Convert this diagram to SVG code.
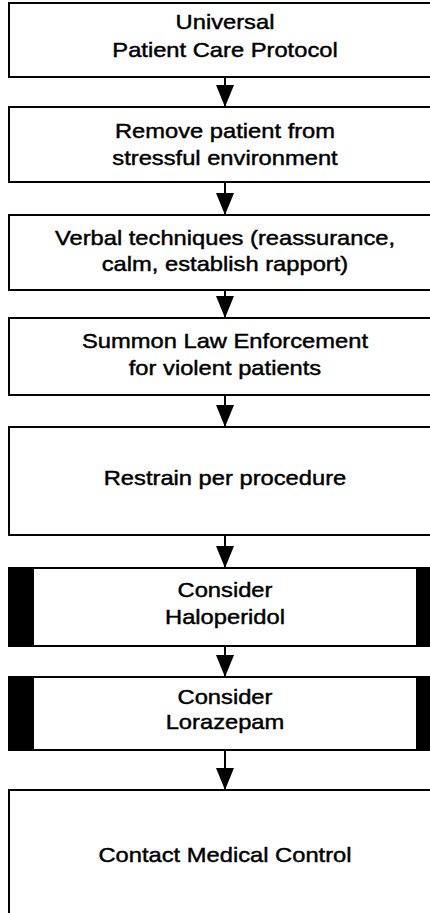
<svg xmlns="http://www.w3.org/2000/svg" width="430" height="913" viewBox="0 0 430 913">
<style>
.box{fill:#fff;stroke:#000;stroke-width:2}
.bar{fill:#000}
.t{font-family:"Liberation Sans",Arial,Helvetica,sans-serif;font-size:21px;text-anchor:middle;fill:#000;stroke:#000;stroke-width:0.45}
.c{stroke:#000;stroke-width:2;fill:none}
</style>
<defs>
<marker id="ah" viewBox="0 0 22 18" refX="22" refY="9" markerWidth="22" markerHeight="18" markerUnits="userSpaceOnUse" orient="auto">
<path d="M0,0 L22,9 L0,18 z" fill="#000"/>
</marker>
</defs>
<rect width="430" height="913" fill="#fff"/>
<g id="connectors">
<line class="c" x1="225" y1="77" x2="225" y2="107" marker-end="url(#ah)"/>
<line class="c" x1="225" y1="182" x2="225" y2="215" marker-end="url(#ah)"/>
<line class="c" x1="225" y1="290" x2="225" y2="318" marker-end="url(#ah)"/>
<line class="c" x1="225" y1="395" x2="225" y2="427" marker-end="url(#ah)"/>
<line class="c" x1="225" y1="535" x2="225" y2="568" marker-end="url(#ah)"/>
<line class="c" x1="225" y1="646" x2="225" y2="677" marker-end="url(#ah)"/>
<line class="c" x1="225" y1="750" x2="225" y2="790" marker-end="url(#ah)"/>
</g>
<g id="n1">
<rect class="box" x="9" y="3" width="432" height="74"/>
<g transform="translate(225 0) scale(1.13 1)"><text class="t" x="0" y="29.5">Universal</text><text class="t" x="0" y="57.5">Patient Care Protocol</text></g>
</g>
<g id="n2">
<rect class="box" x="9" y="107" width="432" height="75"/>
<g transform="translate(225 0) scale(1.13 1)"><text class="t" x="0" y="138.5">Remove patient from</text><text class="t" x="0" y="165.5">stressful environment</text></g>
</g>
<g id="n3">
<rect class="box" x="9" y="215" width="432" height="75"/>
<g transform="translate(225 0) scale(1.13 1)"><text class="t" x="0" y="245.5">Verbal techniques (reassurance,</text><text class="t" x="0" y="271.5">calm, establish rapport)</text></g>
</g>
<g id="n4">
<rect class="box" x="9" y="318" width="432" height="77"/>
<g transform="translate(225 0) scale(1.13 1)"><text class="t" x="0" y="348.5">Summon Law Enforcement</text><text class="t" x="0" y="375.5">for violent patients</text></g>
</g>
<g id="n5">
<rect class="box" x="9" y="427" width="432" height="108"/>
<g transform="translate(225 0) scale(1.13 1)"><text class="t" x="0" y="485.5">Restrain per procedure</text></g>
</g>
<g id="n6">
<rect class="box" x="9" y="568" width="432" height="78"/>
<rect class="bar" x="9" y="568" width="25" height="78"/>
<rect class="bar" x="416" y="568" width="25" height="78"/>
<g transform="translate(225 0) scale(1.13 1)"><text class="t" x="0" y="597.5">Consider</text><text class="t" x="0" y="624.5">Haloperidol</text></g>
</g>
<g id="n7">
<rect class="box" x="9" y="677" width="432" height="73"/>
<rect class="bar" x="9" y="677" width="25" height="73"/>
<rect class="bar" x="416" y="677" width="25" height="73"/>
<g transform="translate(225 0) scale(1.13 1)"><text class="t" x="0" y="704.5">Consider</text><text class="t" x="0" y="729.5">Lorazepam</text></g>
</g>
<g id="n8">
<rect class="box" x="9" y="790" width="432" height="130"/>
<g transform="translate(225 0) scale(1.13 1)"><text class="t" x="0" y="862.5">Contact Medical Control</text></g>
</g>
</svg>
